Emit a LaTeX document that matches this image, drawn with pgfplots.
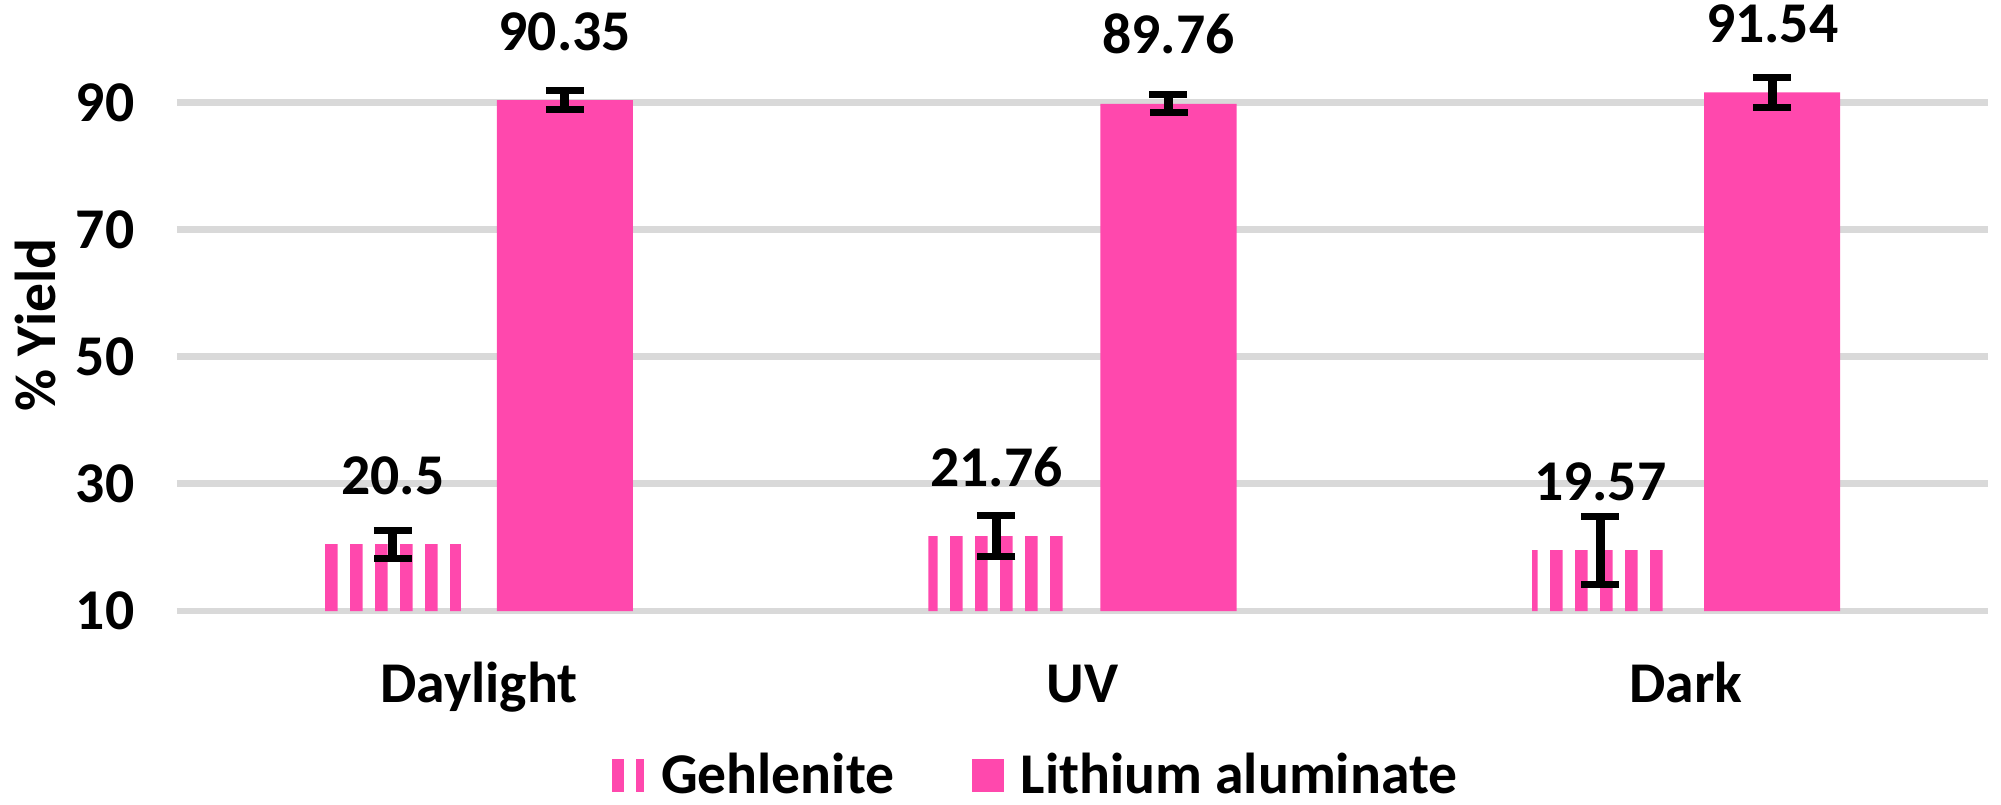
\documentclass[border=0pt]{standalone}
\usepackage{fontspec}
\setmainfont{Carlito}
\usepackage{pgfplots}
\pgfplotsset{compat=1.18}
\usetikzlibrary{patterns}
\definecolor{barpink}{HTML}{FF48AD}
\definecolor{gridgray}{HTML}{D9D9D9}
% vertical stripes for Gehlenite (tall tile to avoid seams)
\pgfdeclarepatternformonly{gstripes}{\pgfqpoint{0pt}{0pt}}{\pgfqpoint{7.5pt}{300pt}}{\pgfqpoint{7.5pt}{300pt}}{%
  \pgfpathrectangle{\pgfqpoint{0pt}{0pt}}{\pgfqpoint{3.9pt}{300pt}}\pgfusepath{fill}}
\begin{document}
\begin{tikzpicture}[font=\fontsize{17.3}{20}\selectfont\bfseries]
  \useasboundingbox (-53.1pt,-57.9pt) rectangle (547.2pt,183.3pt);
  \begin{axis}[
    at={(0,0)}, anchor=south west,
    scale only axis,
    width=543.3pt, height=171.7pt,
    ybar,
    xmin=-0.5, xmax=2.5,
    ymin=10, ymax=100,
    ytick={10,30,50,70,90},
    xtick={0,1,2},
    xticklabels={Daylight,UV,Dark},
    axis line style={draw=none},
    ymajorgrids,
    grid style={gridgray, line width=2pt},
    major tick length=0pt,
    tick style={draw=none},
    /pgf/number format/assume math mode=true,
    yticklabel style={anchor=east, inner sep=0pt, xshift=-12.6pt},
    xticklabel style={anchor=base, inner sep=0pt, yshift=-27.3pt},
    ylabel={\% Yield},
    ylabel style={at={(axis description cs:-0.078,0.5)}, anchor=center},
    bar width=40.8pt,
    nodes near coords,
    nodes near coords style={anchor=base, inner sep=0pt, yshift=15pt, text=black},
    error bars/y dir=both,
    error bars/y explicit,
    error bars/error bar style={black, line width=2.7pt},
    error bars/error mark options={black, rotate=90, mark size=5.7pt, line width=2.1pt},
    legend columns=2,
    legend style={at={(axis description cs:0.4755,-0.288)}, anchor=center,
      draw=none, fill=none, inner sep=0pt,
      /tikz/every odd column/.append style={column sep=3pt},
      /tikz/every even column/.append style={column sep=21.3pt}},
    legend image code/.code={\path[#1] (0pt,-5pt) rectangle (9.6pt,5pt);},
  ]
    \addplot[bar shift=-25.8pt, draw=none, pattern=gstripes, pattern color=barpink,
      legend image code/.code={%
        \fill[barpink] (0pt,-5pt) rectangle (3.6pt,5pt);
        \fill[barpink] (7.2pt,-5pt) rectangle (9.6pt,5pt);}]
      coordinates {
        (0,20.50) +- (0,2.2)
        (1,21.76) +- (0,3.2)
        (2,19.57) +- (0,5.35)
      };
    \addlegendentry{Gehlenite}
    \addplot[bar shift=25.8pt, draw=none, fill=barpink]
      coordinates {
        (0,90.35) +- (0,1.55)
        (1,89.76) +- (0,1.4)
        (2,91.54) +- (0,2.3)
      };
    \addlegendentry{Lithium aluminate}
  \end{axis}
\end{tikzpicture}
\end{document}
